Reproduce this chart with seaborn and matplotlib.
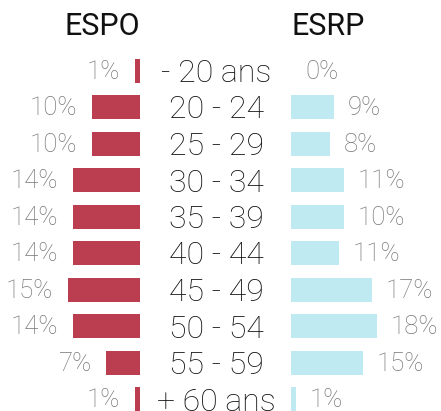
import matplotlib
matplotlib.use("Agg")
import matplotlib.pyplot as plt
import matplotlib.transforms as mtransforms
import seaborn as sns
import pandas as pd

categories = ["- 20 ans", "20 - 24", "25 - 29", "30 - 34", "35 - 39",
              "40 - 44", "45 - 49", "50 - 54", "55 - 59", "+ 60 ans"]
espo_values = [1, 10, 10, 14, 14, 14, 15, 14, 7, 1]
esrp_values = [0, 9, 8.1, 11, 11, 10, 16.9, 17.9, 15, 1]
espo_labels = ["1%", "10%", "10%", "14%", "14%", "14%", "15%", "14%", "7%", "1%"]
esrp_labels = ["0%", "9%", "8%", "11%", "10%", "11%", "17%", "18%", "15%", "1%"]
series_names = ["ESPO", "ESRP"]

RED = "#BB3E50"
CYAN = "#C0EAF1"
GREY = "#777777"

sns.set_theme(style="white")
plt.rcParams["font.family"] = ["Roboto", "DejaVu Sans"]

W, H = 441, 411
fig = plt.figure(figsize=(W / 100, H / 100), dpi=100)

px_per_pct = 4.8
row_h = 36.5
top_px = 52.45
ylim_bottom = (H - top_px) / row_h - 0.5

def fr(x0, x1):
    return x0 / W, 0, (x1 - x0) / W, (H - top_px) / H

axL = fig.add_axes(fr(0, 140))
axR = fig.add_axes(fr(291, W))

dfL = pd.DataFrame({"cat": categories, "val": espo_values})
dfR = pd.DataFrame({"cat": categories, "val": esrp_values})

sns.barplot(data=dfL, x="val", y="cat", orient="h", ax=axL, color=RED,
            saturation=1, width=0.66, linewidth=0)
sns.barplot(data=dfR, x="val", y="cat", orient="h", ax=axR, color=CYAN,
            saturation=1, width=0.66, linewidth=0)

axL.set_xlim(140 / px_per_pct, 0)
axR.set_xlim(0, (W - 291) / px_per_pct)
for ax in (axL, axR):
    ax.set_ylim(ylim_bottom, -0.5)
    ax.axis("off")

pct_fs = 18.5
for i, (v, lab) in enumerate(zip(espo_values, espo_labels)):
    axL.annotate(lab, xy=(v, i), xytext=(-15, -8.2), textcoords="offset pixels",
                 ha="right", va="baseline", fontsize=pct_fs, color=GREY,
                 fontweight="light")
for i, (v, lab) in enumerate(zip(esrp_values, esrp_labels)):
    axR.annotate(lab, xy=(v, i), xytext=(14, -8.2), textcoords="offset pixels",
                 ha="left", va="baseline", fontsize=pct_fs, color=GREY,
                 fontweight="light")

trans = mtransforms.blended_transform_factory(fig.transFigure, axL.transData)
for i, c in enumerate(categories):
    axL.annotate(c, xy=(216.5 / W, i), xycoords=trans, xytext=(0, -11.3),
                 textcoords="offset pixels", ha="center", va="baseline",
                 fontsize=23, color="#111111", fontweight="light",
                 annotation_clip=False)

fig.text(140 / W, (H - 35) / H, series_names[0], ha="right", va="baseline",
         fontsize=22, color="#111111")
fig.text(292 / W, (H - 35) / H, series_names[1], ha="left", va="baseline",
         fontsize=22, color="#111111")

fig.savefig("out.png", dpi=100)
